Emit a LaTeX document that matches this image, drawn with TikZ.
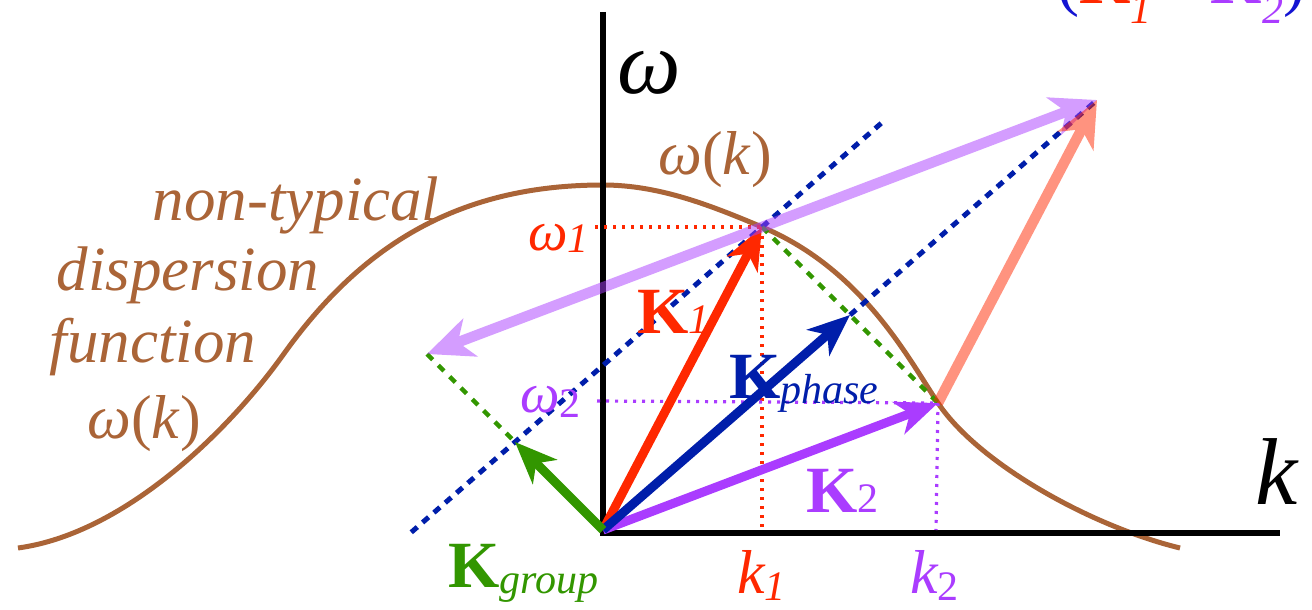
\documentclass[tikz,border=0pt]{standalone}
\usepackage{fontspec}
\setmainfont{Liberation Serif}
\usetikzlibrary{arrows.meta,calc}
\definecolor{kred}{RGB}{255,40,0}
\definecolor{kpurp}{RGB}{170,60,255}
\definecolor{kblue}{RGB}{0,30,170}
\definecolor{kgreen}{RGB}{50,150,0}
\definecolor{kbrown}{RGB}{170,100,55}
\definecolor{kparen}{RGB}{20,20,210}
\newcommand{\subfs}{\fontsize{42}{42}\selectfont}
\tikzset{bigtip/.tip={Stealth[length=46pt,width=40pt,inset=13pt]},
         vectip/.tip={Stealth[length=42pt,width=34pt,inset=12pt]}}
\begin{document}
\begin{tikzpicture}[x=1pt,y=-1pt,
  vec/.style={line width=9pt,-vectip},
  bigvec/.style={line width=10.5pt},
  bluedash/.style={kblue,line width=5pt,dash pattern=on 8pt off 7pt},
  greendash/.style={kgreen,line width=4.5pt,dash pattern=on 8pt off 8pt},
  dotline/.style={line width=3.2pt,dash pattern=on 3pt off 6pt},
  lbl/.style={inner sep=0pt},
  italbl/.style={inner sep=0pt,kbrown,font=\fontsize{63}{63}\selectfont\itshape,anchor=base},
  klbl/.style={inner sep=0pt,anchor=base west,font=\fontsize{66}{66}\selectfont}
]
\useasboundingbox (0,0) rectangle (1312,610);
\clip (0,0) rectangle (1312,610);

% key points
\coordinate (O) at (603,530);
\coordinate (P1) at (762,227);
\coordinate (P2) at (938,403);
\coordinate (M) at ($(P1)!0.5!(P2)$);
\coordinate (S) at ($(P1)+(P2)-(O)$);
\coordinate (G) at ($(O)+0.5*(P1)-0.5*(P2)$);
\coordinate (A) at ($(P1)-(P2)+(O)$);
\coordinate (L1a) at ($(G)!-0.42!(P1)$);
\coordinate (L1b) at ($(G)!1.5!(P1)$);
\coordinate (yT) at (603,12);
\coordinate (xE) at (1280,533);
\coordinate (X0) at (600,533);
\coordinate (W1) at (595,227);
\coordinate (W2) at (597,401);
\coordinate (K1b) at (762,530);
\coordinate (K2b) at (936,530);
\coordinate (CL) at (18,548);
\coordinate (CI) at (283,355);
\coordinate (CT) at (603,185);
\coordinate (CR) at (1180,548);

% dispersion curve
\draw[kbrown,line width=5pt]
  (CL) .. controls (128,533) and (233,425) .. (CI)
       .. controls (358,250) and (453,185) .. (CT)
       .. controls (660,185) and (712,206) .. (P1)
       .. controls (862,269) and (908,358) .. (P2)
       .. controls (978,463) and (1090,526) .. (CR);

% axes
\draw[line width=5.5pt] (yT) -- (O);
\draw[line width=5.5pt] (X0) -- (xE);

% dotted guide lines
\draw[dotline,kred] (W1) -- (P1);
\draw[dotline,kred] (P1) -- (K1b);
\draw[dotline,kpurp] (W2) -- (P2);
\draw[dotline,kpurp] (P2) -- (K2b);

% dashed construction lines
\draw[bluedash] (L1a) -- (L1b);
\draw[bluedash] (M) -- (S);
\draw[greendash] (P1) -- (P2);
\draw[greendash] (A) -- (G);

% vectors
\draw[vec,kred] (O) -- (P1);
\draw[vec,kpurp] (O) -- (P2);
\draw[vec,kblue] (O) -- (M);
\draw[vec,kgreen] (O) -- (G);
\begin{scope}[transparency group,opacity=0.5]
\draw[bigvec,kpurp,bigtip-bigtip] (A) -- (S);
\end{scope}
\begin{scope}[transparency group,opacity=0.5]
\draw[bigvec,kred,-bigtip] (P2) -- (S);
\end{scope}

% labels
\node[italbl] (nt) at (296,220) {non-typical};
\node[italbl] (disp) at (188,290) {dispersion};
\node[italbl] (func) at (153,362) {function};
\node[lbl,kbrown,font=\fontsize{62}{62}\selectfont] (wkL) at (144,424) {\textit{ω}(\textit{k})};
\node[lbl,kbrown,font=\fontsize{62}{62}\selectfont] (wkT) at (715,160) {\textit{ω}(\textit{k})};
\node[lbl,font=\fontsize{90}{90}\selectfont\itshape] (wax) at (649,73) {ω};
\node[lbl,font=\fontsize{95}{95}\selectfont\itshape] (kax) at (1277,472) {k};

\node[lbl,kred,anchor=base west,font=\fontsize{56}{56}\selectfont\itshape] (w1) at (528,250) {ω\raisebox{-2pt}{\subfs 1}};
\node[lbl,kpurp,anchor=base west,font=\fontsize{56}{56}\selectfont\itshape] (w2) at (520,412) {ω\raisebox{-5pt}{\subfs\upshape 2}};
\node[lbl,kred,anchor=base west,font=\fontsize{62}{62}\selectfont\itshape] (k1) at (737,593) {k\raisebox{-7pt}{\subfs 1}};
\node[lbl,kpurp,anchor=base west,font=\fontsize{62}{62}\selectfont\itshape] (k2) at (910,593) {k\raisebox{-7pt}{\subfs\upshape 2}};

\node[klbl,kred] (K1) at (637,333) {\textbf{K}{\subfs\itshape 1}};
\node[klbl,kblue] (Kph) at (729,398) {\textbf{K}\raisebox{-5pt}{\subfs\itshape phase}};
\node[klbl,kpurp] (K2) at (806,512) {\textbf{K}{\subfs 2}};
\node[klbl,kgreen] (Kgr) at (448,587) {\textbf{K}\raisebox{-6pt}{\subfs\itshape group}};

\node[klbl] (Ksum) at (1057,4) {\textcolor{kparen}{(}\textcolor{kred}{\textbf{K}\raisebox{-20pt}{\subfs\itshape 1}}\,\textcolor{kpurp}{+}\,\textcolor{kpurp}{\textbf{K}\raisebox{-20pt}{\subfs\itshape 2}}\textcolor{kparen}{)}};
\end{tikzpicture}
\end{document}
